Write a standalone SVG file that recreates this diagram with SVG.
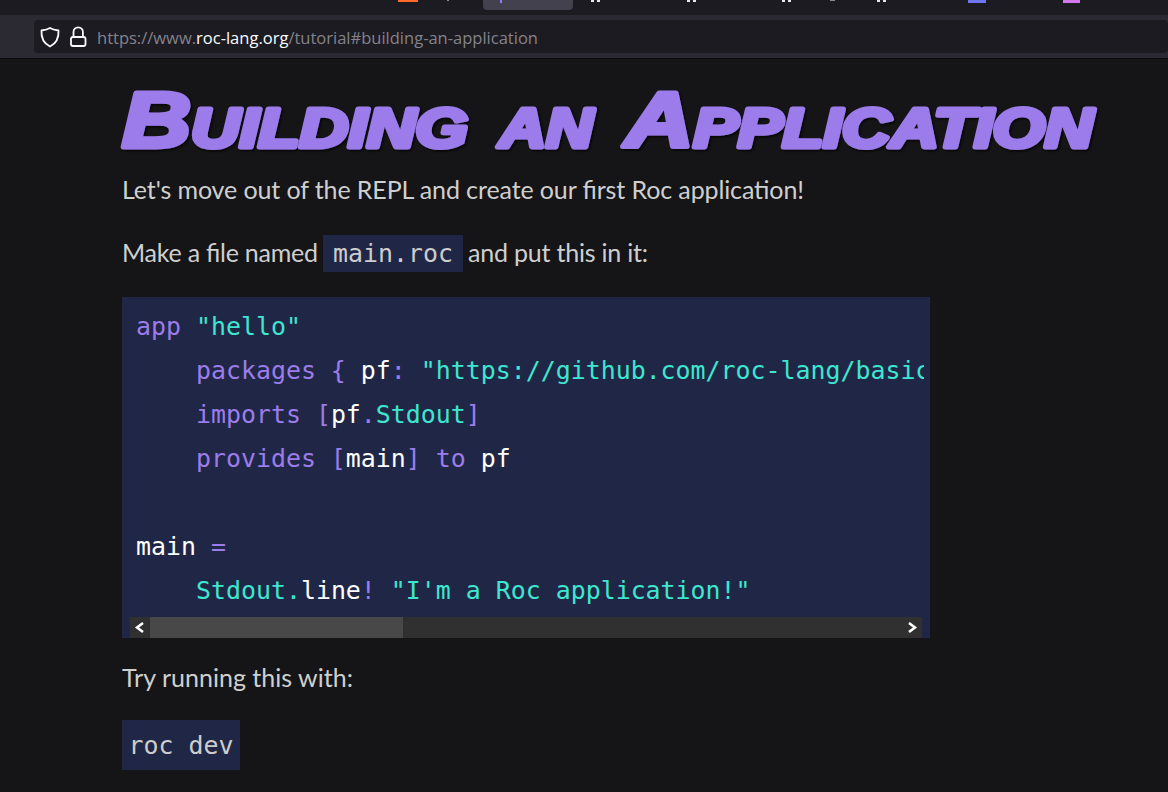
<svg xmlns="http://www.w3.org/2000/svg" width="1168" height="792" viewBox="0 0 1168 792">
<style>
.body{font-family:"Lato","Liberation Sans",sans-serif;font-size:25px;fill:#cfcfcf}
.code{font-family:"DejaVu Sans Mono","Liberation Mono",monospace;font-size:24.9px;white-space:pre}
.k{fill:#9c7cea}.s{fill:#3ee6d0}.w{fill:#fff}.g{fill:#cdcdcd}
.title{font-family:"Liberation Sans",sans-serif;font-weight:700;font-style:italic;font-size:78px;font-variant:small-caps;fill:#9c7cea;stroke:#9c7cea;stroke-width:5px;stroke-linejoin:round;filter:url(#sh)}
.url{font-family:"Open Sans","Noto Sans",sans-serif;font-size:17px;fill:#84838a}
</style>
<defs>
<filter id="sh" x="-5%" y="-10%" width="110%" height="125%"><feDropShadow dx="1.500" dy="1.500" stdDeviation="1" flood-color="#000" flood-opacity="0.8"/></filter>
<clipPath id="cc"><rect x="122" y="297" width="802" height="320"/></clipPath>
</defs>
<rect width="1168" height="792" fill="#151517"/>
<g id="browser">
<rect width="1168" height="15" fill="#1c1b22"/>
<rect y="15" width="1168" height="43" fill="#2b2a33"/>
<rect x="34" y="20" width="1134" height="33" rx="4" fill="#1c1b22"/>
<rect y="58" width="1168" height="1" fill="#0c0c0d"/>
<path d="M483 0H573V6a4 4 0 0 1-4 4H487a4 4 0 0 1-4-4Z" fill="#42414d"/>
<rect x="398" y="0" width="20" height="2" fill="#ff6a2b"/>
<rect x="447" y="0" width="2" height="1" fill="#8a8a8a"/>
<rect x="500" y="0" width="2" height="3" fill="#8f7bff"/>
<g fill="#e8e8e8">
<rect x="591" y="0" width="3" height="2"/><rect x="597" y="0" width="3" height="2"/>
<rect x="687" y="0" width="3" height="2"/><rect x="693" y="0" width="3" height="2"/>
<rect x="782" y="0" width="3" height="2"/><rect x="788" y="0" width="3" height="2"/>
<rect x="877" y="0" width="3" height="2"/><rect x="883" y="0" width="3" height="2"/>
</g>
<rect x="830" y="0" width="5" height="1" fill="#8a8a8a"/>
<rect x="968" y="0" width="18" height="3" fill="#6f74f0"/>
<rect x="1063" y="0" width="17" height="3" fill="#d678f0"/>
<path d="M50 28C52.500 29.500 55 30 58.500 30.500C59 38 56 43.500 50 46.500C44 43.500 41 38 41.500 30.500C45 30 47.500 29.500 50 28Z" fill="none" stroke="#fbfbfe" stroke-width="1.800" stroke-linejoin="round"/>
<rect x="71" y="37" width="14.500" height="9" rx="2" fill="none" stroke="#fbfbfe" stroke-width="1.800"/>
<path d="M73.500 37V32a4.700 4.700 0 0 1 9.400 0V37" fill="none" stroke="#fbfbfe" stroke-width="1.800"/>
<text class="url" x="97" y="44" textLength="441" lengthAdjust="spacingAndGlyphs">https://www.<tspan fill="#fbfbfe">roc-lang.org</tspan>/tutorial#building-an-application</text>
</g>
<g id="heading">
<text class="title" x="122" y="147" textLength="346" lengthAdjust="spacingAndGlyphs">Building</text>
<text class="title" x="499" y="147" textLength="94" lengthAdjust="spacingAndGlyphs">an</text>
<text class="title" x="625" y="147" textLength="468" lengthAdjust="spacingAndGlyphs">Application</text>
</g>
<text class="body" x="122" y="199" textLength="682">Let's move out of the REPL and create our first Roc application!</text>
<text class="body" x="122" y="262" textLength="196">Make a file named</text>
<rect x="323" y="235" width="140" height="37" fill="#202746"/>
<text class="code g" x="333" y="262">main.roc</text>
<text class="body" x="468" y="262" textLength="180">and put this in it:</text>
<g id="code-block">
<rect x="122" y="297" width="808" height="341" fill="#202746"/>
<g clip-path="url(#cc)">
<text class="code" y="334.500"><tspan x="136" class="k">app</tspan> <tspan class="s">"hello"</tspan></text>
<text class="code" y="378.500"><tspan x="196" class="k">packages {</tspan> <tspan class="w">pf</tspan><tspan class="k">:</tspan> <tspan class="s">"https://github.com/roc-lang/basic</tspan></text>
<text class="code" y="422.500"><tspan x="196" class="k">imports [</tspan><tspan class="w">pf</tspan><tspan class="k">.</tspan><tspan class="s">Stdout</tspan><tspan class="k">]</tspan></text>
<text class="code" y="466.500"><tspan x="196" class="k">provides [</tspan><tspan class="w">main</tspan><tspan class="k">] to</tspan> <tspan class="w">pf</tspan></text>
<text class="code" y="554.500"><tspan x="136" class="w">main</tspan> <tspan class="k">=</tspan></text>
<text class="code" y="598.500"><tspan x="196" class="s">Stdout.</tspan><tspan class="w">line</tspan><tspan class="k">!</tspan> <tspan class="s">"I'm a Roc application!"</tspan></text>
</g>
<rect x="130" y="617" width="792" height="21" fill="#303030"/>
<rect x="150" y="617" width="253" height="21" fill="#484848"/>
<path d="M143 623L137 627.500L143 632" fill="none" stroke="#fff" stroke-width="2.500"/>
<path d="M909 623L915 627.500L909 632" fill="none" stroke="#fff" stroke-width="2.500"/>
</g>
<text class="body" x="122" y="687" textLength="231">Try running this with:</text>
<rect x="122" y="720" width="118" height="50" fill="#202746"/>
<text class="code g" x="128.500" y="754">roc dev</text>
</svg>
